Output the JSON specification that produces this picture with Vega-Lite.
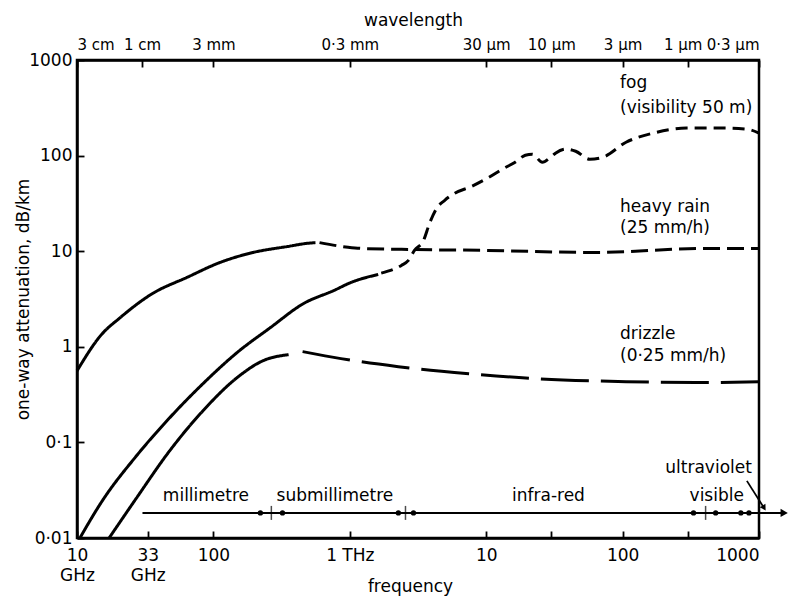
{
  "$schema": "https://vega.github.io/schema/vega-lite/v6.json",
  "width": 682,
  "height": 478,
  "autosize": {"type": "none"},
  "padding": {"left": 77, "top": 60, "right": 44, "bottom": 63},
  "background": "white",
  "config": {
    "view": {"stroke": "black", "strokeWidth": 2.5},
    "font": "DejaVu Sans",
    "axis": {
      "domainColor": "black", "domainWidth": 2.5, "tickColor": "black", "tickWidth": 1.8,
      "labelColor": "black", "titleColor": "black", "labelFontSize": 17, "titleFontSize": 17,
      "titleFontWeight": "normal", "labelFont": "DejaVu Sans", "titleFont": "DejaVu Sans", "grid": false
    },
    "text": {"font": "DejaVu Sans", "fontSize": 17, "color": "black"}
  },
  "datasets": {
    "curves": [
      {"seg": "rain1", "style": "solid", "f": 10, "a": 0.56},
      {"seg": "rain1", "style": "solid", "f": 15.3, "a": 1.37},
      {"seg": "rain1", "style": "solid", "f": 20.4, "a": 1.98},
      {"seg": "rain1", "style": "solid", "f": 35.8, "a": 3.61},
      {"seg": "rain1", "style": "solid", "f": 63.8, "a": 5.31},
      {"seg": "rain1", "style": "solid", "f": 112, "a": 7.63},
      {"seg": "rain1", "style": "solid", "f": 196, "a": 9.71},
      {"seg": "rain1", "style": "solid", "f": 350, "a": 11.2},
      {"seg": "rain1", "style": "solid", "f": 491, "a": 12.1},
      {"seg": "rain1", "style": "solid", "f": 560, "a": 12.3},
      {"seg": "rain2", "style": "rain", "f": 600, "a": 12.3},
      {"seg": "rain2", "style": "rain", "f": 970, "a": 11.0},
      {"seg": "rain2", "style": "rain", "f": 1210, "a": 10.7},
      {"seg": "rain2", "style": "rain", "f": 3000, "a": 10.4},
      {"seg": "rain2", "style": "rain", "f": 9790, "a": 10.2},
      {"seg": "rain2", "style": "rain", "f": 63600, "a": 9.7},
      {"seg": "rain2", "style": "rain", "f": 393000, "a": 10.7},
      {"seg": "rain2", "style": "rain", "f": 1000000, "a": 10.7},
      {"seg": "fog1", "style": "solid", "f": 10.5, "a": 0.01},
      {"seg": "fog1", "style": "solid", "f": 15.3, "a": 0.0244},
      {"seg": "fog1", "style": "solid", "f": 27.3, "a": 0.0724},
      {"seg": "fog1", "style": "solid", "f": 47.8, "a": 0.181},
      {"seg": "fog1", "style": "solid", "f": 83.8, "a": 0.411},
      {"seg": "fog1", "style": "solid", "f": 149, "a": 0.869},
      {"seg": "fog1", "style": "solid", "f": 262, "a": 1.59},
      {"seg": "fog1", "style": "solid", "f": 459, "a": 2.84},
      {"seg": "fog1", "style": "solid", "f": 764, "a": 3.88},
      {"seg": "fog1", "style": "solid", "f": 1020, "a": 4.71},
      {"seg": "fog1", "style": "solid", "f": 1616, "a": 5.71},
      {"seg": "fog2", "style": "fog", "f": 1700, "a": 5.9},
      {"seg": "fog2", "style": "fog", "f": 2388, "a": 7.1},
      {"seg": "fog2", "style": "fog", "f": 2691, "a": 8.01},
      {"seg": "fog2", "style": "fog", "f": 2980, "a": 10.2},
      {"seg": "fog2", "style": "fog", "f": 3474, "a": 13.0},
      {"seg": "fog2", "style": "fog", "f": 3845, "a": 19.6},
      {"seg": "fog2", "style": "fog", "f": 4333, "a": 28.1},
      {"seg": "fog2", "style": "fog", "f": 4966, "a": 34.1},
      {"seg": "fog2", "style": "fog", "f": 5886, "a": 40.4},
      {"seg": "fog2", "style": "fog", "f": 7852, "a": 47.8},
      {"seg": "fog2", "style": "fog", "f": 10490, "a": 59.4},
      {"seg": "fog2", "style": "fog", "f": 13090, "a": 72.0},
      {"seg": "fog2", "style": "fog", "f": 16300, "a": 85.3},
      {"seg": "fog2", "style": "fog", "f": 19360, "a": 101},
      {"seg": "fog2", "style": "fog", "f": 21800, "a": 103.5},
      {"seg": "fog2", "style": "fog", "f": 25800, "a": 85.3},
      {"seg": "fog2", "style": "fog", "f": 29600, "a": 96.2},
      {"seg": "fog2", "style": "fog", "f": 32200, "a": 106},
      {"seg": "fog2", "style": "fog", "f": 38200, "a": 117},
      {"seg": "fog2", "style": "fog", "f": 45300, "a": 111},
      {"seg": "fog2", "style": "fog", "f": 57400, "a": 91.7},
      {"seg": "fog2", "style": "fog", "f": 71700, "a": 96.2},
      {"seg": "fog2", "style": "fog", "f": 106000, "a": 138},
      {"seg": "fog2", "style": "fog", "f": 168000, "a": 172},
      {"seg": "fog2", "style": "fog", "f": 294000, "a": 194},
      {"seg": "fog2", "style": "fog", "f": 524000, "a": 194},
      {"seg": "fog2", "style": "fog", "f": 815000, "a": 189},
      {"seg": "fog2", "style": "fog", "f": 1000000, "a": 172},
      {"seg": "driz1", "style": "solid", "f": 17.2, "a": 0.01},
      {"seg": "driz1", "style": "solid", "f": 27.3, "a": 0.0262},
      {"seg": "driz1", "style": "solid", "f": 47.8, "a": 0.0817},
      {"seg": "driz1", "style": "solid", "f": 83.8, "a": 0.214},
      {"seg": "driz1", "style": "solid", "f": 149, "a": 0.475},
      {"seg": "driz1", "style": "solid", "f": 232, "a": 0.717},
      {"seg": "driz1", "style": "solid", "f": 356, "a": 0.828},
      {"seg": "driz2", "style": "drizzle", "f": 451, "a": 0.891},
      {"seg": "driz2", "style": "drizzle", "f": 861, "a": 0.752},
      {"seg": "driz2", "style": "drizzle", "f": 2270, "a": 0.62},
      {"seg": "driz2", "style": "drizzle", "f": 7460, "a": 0.524},
      {"seg": "driz2", "style": "drizzle", "f": 22900, "a": 0.464},
      {"seg": "driz2", "style": "drizzle", "f": 106000, "a": 0.432},
      {"seg": "driz2", "style": "drizzle", "f": 348000, "a": 0.422},
      {"seg": "driz2", "style": "drizzle", "f": 1000000, "a": 0.432}
    ],
    "band": [{"f": 30.2, "f2": 1530000, "a": 0.0183}],
    "bandmarks": [
      {"f": 221, "a": 0.0183, "kind": "dot"},
      {"f": 266, "a": 0.0183, "kind": "tick"},
      {"f": 321, "a": 0.0183, "kind": "dot"},
      {"f": 2270, "a": 0.0183, "kind": "dot"},
      {"f": 2560, "a": 0.0183, "kind": "tick"},
      {"f": 2930, "a": 0.0183, "kind": "dot"},
      {"f": 331000, "a": 0.0183, "kind": "dot"},
      {"f": 406000, "a": 0.0183, "kind": "tick"},
      {"f": 481000, "a": 0.0183, "kind": "dot"},
      {"f": 736000, "a": 0.0183, "kind": "dot"},
      {"f": 844000, "a": 0.0183, "kind": "dot"},
      {"f": 1530000, "a": 0.0183, "kind": "arrow"}
    ],
    "uvarrow": [{"f": 815000, "f2": 1090000, "a": 0.0396, "a2": 0.0206}],
    "labels": [
      {"text": "fog", "f": 95700, "a": 574, "group": "curve"},
      {"text": "(visibility 50 m)", "f": 95700, "a": 314, "group": "curve"},
      {"text": "heavy rain", "f": 95700, "a": 28.8, "group": "curve"},
      {"text": "(25 mm/h)", "f": 95700, "a": 17.3, "group": "curve"},
      {"text": "drizzle", "f": 95700, "a": 1.375, "group": "curve"},
      {"text": "(0·25 mm/h)", "f": 95700, "a": 0.809, "group": "curve"},
      {"text": "millimetre", "f": 88.2, "a": 0.0275, "group": "band"},
      {"text": "submillimetre", "f": 778, "a": 0.0275, "group": "band"},
      {"text": "infra-red", "f": 28600, "a": 0.0275, "group": "band"},
      {"text": "visible", "f": 490000, "a": 0.0275, "group": "band"},
      {"text": "ultraviolet", "f": 427000, "a": 0.0542, "group": "band"}
    ]
  },
  "layer": [
    {
      "data": {"name": "curves"},
      "mark": {"type": "line", "stroke": "black", "strokeWidth": 3, "interpolate": "monotone"},
      "encoding": {
        "x": {"field": "f", "type": "quantitative", "scale": {"type": "log", "domain": [10, 1000000]},
          "axis": {
            "orient": "bottom",
            "values": [10, 33, 100, 1000, 10000, 30000, 100000, 300000, 1000000],
            "labelExpr": "datum.value == 10 ? ['10', 'GHz'] : datum.value == 33 ? ['33', 'GHz'] : datum.value == 100 ? '100' : datum.value == 1000 ? '1 THz' : datum.value == 10000 ? '10' : datum.value == 100000 ? '100' : datum.value == 1000000 ? '1000' : ''",
            "labelAlign": {"condition": {"test": "datum.value >= 1000000", "value": "right"}, "value": "center"},
            "labelFlush": false, "labelOverlap": false, "labelBound": false,
            "labelLineHeight": 20, "tickSize": -7, "labelPadding": 16,
            "title": "frequency", "titleX": 333, "titleY": 48, "titleBaseline": "middle"
          }
        },
        "y": {"field": "a", "type": "quantitative", "scale": {"type": "log", "domain": [0.01, 1000]},
          "axis": {
            "orient": "left",
            "values": [0.01, 0.1, 1, 10, 100, 1000],
            "labelExpr": "datum.value == 0.01 ? '0·01' : datum.value == 0.1 ? '0·1' : datum.value == 1 ? '1' : datum.value == 10 ? '10' : datum.value == 100 ? '100' : '1000'",
            "labelFlush": false, "labelBound": false, "labelOverlap": false,
            "tickSize": -7, "labelPadding": 12,
            "title": "one-way attenuation, dB/km", "titleX": -45, "titleY": 239
          }
        },
        "detail": {"field": "seg"},
        "strokeDash": {"field": "style", "type": "nominal", "legend": null,
          "scale": {"domain": ["solid", "fog", "rain", "drizzle"], "range": [[1, 0], [12, 7], [17, 7], [48, 12]]}}
      }
    },
    {
      "data": {"name": "band"},
      "mark": {"type": "rule", "color": "black", "strokeWidth": 2},
      "encoding": {
        "x": {"field": "f", "type": "quantitative", "scale": {"type": "log", "domain": [10, 1000000]},
          "axis": {
            "orient": "top",
            "values": [10, 30, 100, 1000, 10000, 30000, 100000, 300000, 1000000],
            "labelExpr": "datum.value == 10 ? '3 cm' : datum.value == 30 ? '1 cm' : datum.value == 100 ? '3 mm' : datum.value == 1000 ? '0·3 mm' : datum.value == 10000 ? '30 µm' : datum.value == 30000 ? '10 µm' : datum.value == 100000 ? '3 µm' : datum.value == 300000 ? '1 µm' : '0·3 µm'",
            "labelOffset": {"condition": {"test": "datum.value == 300000", "value": -5}, "value": 0},
            "labelFlush": true, "labelOverlap": false, "labelBound": false, "labelFontSize": 15,
            "tickSize": -7, "labelPadding": 15,
            "title": "wavelength", "titleX": 336, "titleY": -40, "titleBaseline": "middle"
          }
        },
        "x2": {"field": "f2"},
        "y": {"field": "a", "type": "quantitative", "scale": {"type": "log", "domain": [0.01, 1000]}, "axis": null}
      }
    },
    {
      "data": {"name": "bandmarks"},
      "transform": [{"filter": "datum.kind == 'tick'"}],
      "mark": {"type": "tick", "orient": "vertical", "color": "black", "size": 14, "thickness": 1.5},
      "encoding": {
        "x": {"field": "f", "type": "quantitative", "scale": {"type": "log", "domain": [10, 1000000]}, "axis": null},
        "y": {"field": "a", "type": "quantitative", "scale": {"type": "log", "domain": [0.01, 1000]}, "axis": null}
      }
    },
    {
      "data": {"name": "bandmarks"},
      "transform": [{"filter": "datum.kind == 'dot'"}],
      "mark": {"type": "point", "filled": true, "color": "black", "size": 28, "opacity": 1},
      "encoding": {
        "x": {"field": "f", "type": "quantitative", "scale": {"type": "log", "domain": [10, 1000000]}, "axis": null},
        "y": {"field": "a", "type": "quantitative", "scale": {"type": "log", "domain": [0.01, 1000]}, "axis": null}
      }
    },
    {
      "data": {"name": "bandmarks"},
      "transform": [{"filter": "datum.kind == 'arrow'"}],
      "mark": {"type": "point", "shape": "triangle-right", "filled": true, "color": "black", "size": 70, "opacity": 1},
      "encoding": {
        "x": {"field": "f", "type": "quantitative", "scale": {"type": "log", "domain": [10, 1000000]}, "axis": null},
        "y": {"field": "a", "type": "quantitative", "scale": {"type": "log", "domain": [0.01, 1000]}, "axis": null}
      }
    },
    {
      "data": {"name": "uvarrow"},
      "mark": {"type": "rule", "color": "black", "strokeWidth": 1.8},
      "encoding": {
        "x": {"field": "f", "type": "quantitative", "scale": {"type": "log", "domain": [10, 1000000]}, "axis": null},
        "x2": {"field": "f2"},
        "y": {"field": "a", "type": "quantitative", "scale": {"type": "log", "domain": [0.01, 1000]}, "axis": null},
        "y2": {"field": "a2"}
      }
    },
    {
      "data": {"name": "uvarrow"},
      "mark": {"type": "point", "shape": "triangle-up", "angle": 148, "filled": true, "color": "black", "size": 45, "opacity": 1},
      "encoding": {
        "x": {"field": "f2", "type": "quantitative", "scale": {"type": "log", "domain": [10, 1000000]}, "axis": null},
        "y": {"field": "a2", "type": "quantitative", "scale": {"type": "log", "domain": [0.01, 1000]}, "axis": null}
      }
    },
    {
      "data": {"name": "labels"},
      "transform": [{"filter": "datum.group == 'curve'"}],
      "mark": {"type": "text", "align": "left", "baseline": "middle", "fontSize": 17},
      "encoding": {
        "x": {"field": "f", "type": "quantitative", "scale": {"type": "log", "domain": [10, 1000000]}, "axis": null},
        "y": {"field": "a", "type": "quantitative", "scale": {"type": "log", "domain": [0.01, 1000]}, "axis": null},
        "text": {"field": "text"}
      }
    },
    {
      "data": {"name": "labels"},
      "transform": [{"filter": "datum.group == 'band'"}],
      "mark": {"type": "text", "align": "center", "baseline": "middle", "fontSize": 17},
      "encoding": {
        "x": {"field": "f", "type": "quantitative", "scale": {"type": "log", "domain": [10, 1000000]}, "axis": null},
        "y": {"field": "a", "type": "quantitative", "scale": {"type": "log", "domain": [0.01, 1000]}, "axis": null},
        "text": {"field": "text"}
      }
    }
  ],
  "resolve": {"axis": {"x": "independent", "y": "independent"}}
}
